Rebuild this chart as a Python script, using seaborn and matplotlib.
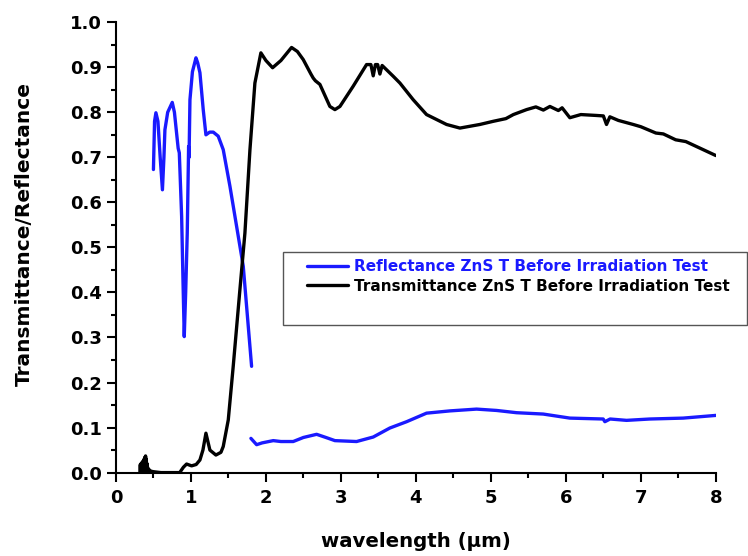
import numpy as np
import pandas as pd
import matplotlib
matplotlib.use("Agg")
import matplotlib.pyplot as plt
import seaborn as sns
from matplotlib.patches import Rectangle

# Reflectance, visible/NIR segment
refl_vis_x = [0.50, 0.515, 0.533, 0.56, 0.59, 0.62, 0.64, 0.653, 0.69, 0.751, 0.78, 0.818, 0.83, 0.845,
              0.876, 0.895, 0.911, 0.93, 0.951, 0.969, 0.975, 0.987, 1.02, 1.067, 1.09, 1.12, 1.164,
              1.2, 1.25, 1.298, 1.364, 1.431, 1.52, 1.609, 1.698, 1.809]
refl_vis_y = [0.673, 0.78, 0.799, 0.78, 0.70, 0.628, 0.70, 0.761, 0.80, 0.822, 0.80, 0.739, 0.72, 0.710,
              0.569, 0.42, 0.302, 0.40, 0.532, 0.724, 0.70, 0.828, 0.89, 0.921, 0.91, 0.888, 0.806,
              0.750, 0.756, 0.756, 0.747, 0.717, 0.636, 0.547, 0.458, 0.236]

# Reflectance, IR segment
refl_ir_x = [1.80, 1.876, 1.95, 2.098, 2.2, 2.364, 2.5, 2.676, 2.8, 2.92, 3.209, 3.431, 3.653, 3.876,
             4.142, 4.453, 4.809, 5.076, 5.342, 5.698, 6.053, 6.498, 6.52, 6.59, 6.809, 7.12, 7.564, 8.0]
refl_ir_y = [0.076, 0.062, 0.066, 0.071, 0.069, 0.069, 0.078, 0.085, 0.078, 0.071, 0.069, 0.079, 0.099,
             0.113, 0.132, 0.137, 0.141, 0.138, 0.133, 0.130, 0.121, 0.119, 0.113, 0.119, 0.116, 0.119,
             0.121, 0.127]

# Transmittance
trans_x = [0.32, 0.325, 0.33, 0.335, 0.34, 0.345, 0.35, 0.355, 0.36, 0.365, 0.37, 0.375, 0.38, 0.385,
           0.39, 0.395, 0.40, 0.405, 0.41, 0.415, 0.42, 0.43, 0.44, 0.45, 0.47, 0.50, 0.55, 0.60, 0.75,
           0.85, 0.90, 0.942, 1.009, 1.07, 1.12, 1.16, 1.2, 1.253,
           1.333, 1.40, 1.431, 1.498, 1.564, 1.653, 1.72, 1.787, 1.853, 1.933, 2.0, 2.089, 2.2, 2.342,
           2.42, 2.498, 2.6, 2.631, 2.66, 2.72, 2.853, 2.92, 2.987, 3.164, 3.342, 3.40, 3.431, 3.46,
           3.49, 3.52, 3.55, 3.698, 3.787, 3.964, 4.142, 4.409, 4.587, 4.853, 5.031, 5.2, 5.3, 5.476,
           5.6, 5.7, 5.787, 5.9, 5.95, 6.053, 6.2, 6.409, 6.5, 6.542, 6.587, 6.7, 6.898, 7.0, 7.2,
           7.3, 7.464, 7.6, 8.0]
trans_y = [0.0, 0.018, 0.0, 0.02, 0.0, 0.022, 0.0, 0.024, 0.0, 0.026, 0.0, 0.03, 0.0, 0.034,
           0.0, 0.037, 0.0, 0.03, 0.0, 0.02, 0.012, 0.009, 0.007, 0.005, 0.003, 0.002, 0.001, 0.0, 0.0,
           0.0, 0.012, 0.019, 0.015, 0.018, 0.028, 0.05, 0.0875, 0.050,
           0.039, 0.045, 0.058, 0.117, 0.236, 0.406, 0.532, 0.717, 0.865, 0.932, 0.915, 0.899,
           0.915, 0.944, 0.935, 0.917, 0.885, 0.876, 0.870, 0.862, 0.813, 0.806, 0.813, 0.858, 0.906,
           0.906, 0.881, 0.906, 0.906, 0.885, 0.904, 0.880, 0.865, 0.828, 0.795, 0.773, 0.765, 0.773,
           0.780, 0.786, 0.795, 0.806, 0.812, 0.805, 0.813, 0.804, 0.810, 0.788, 0.795, 0.793, 0.792,
           0.773, 0.790, 0.782, 0.773, 0.768, 0.754, 0.752, 0.739, 0.735, 0.704]

label_r = "Reflectance ZnS T Before Irradiation Test"
label_t = "Transmittance ZnS T Before Irradiation Test"
blue = "#1a1aff"

sns.set_theme(style="ticks")
plt.rcParams["font.family"] = ["DejaVu Sans"]
plt.rcParams["font.weight"] = "bold"
for k in ["text.color", "axes.labelcolor", "xtick.color", "ytick.color", "axes.edgecolor"]:
    plt.rcParams[k] = "black"

fig = plt.figure(figsize=(7.48, 5.56), dpi=100)
ax = fig.add_axes([0.155, 0.150, 0.802, 0.810])

df_rv = pd.DataFrame({"x": refl_vis_x, "y": refl_vis_y})
df_ri = pd.DataFrame({"x": refl_ir_x, "y": refl_ir_y})
df_t = pd.DataFrame({"x": trans_x, "y": trans_y})

sns.lineplot(data=df_rv, x="x", y="y", ax=ax, color=blue, lw=2.4, sort=False, label=label_r)
sns.lineplot(data=df_ri, x="x", y="y", ax=ax, color=blue, lw=2.4, sort=False, label="_nolegend_")
sns.lineplot(data=df_t, x="x", y="y", ax=ax, color="black", lw=2.4, sort=False, label=label_t)

ax.set_xlim(0, 8)
ax.set_ylim(0, 1.0)
ax.set_xticks(np.arange(0, 9, 1))
ax.set_xticks(np.arange(0, 8.01, 0.5), minor=True)
ax.set_yticks(np.round(np.arange(0, 1.01, 0.1), 1))
ax.set_yticks(np.arange(0, 1.001, 0.05), minor=True)
ax.set_yticklabels([f"{v:.1f}" for v in np.arange(0, 1.01, 0.1)])
ax.tick_params(axis="both", which="major", length=6.5, width=1.5, labelsize=13, direction="out")
ax.tick_params(axis="x", which="major", pad=5)
ax.tick_params(axis="y", which="major", pad=3.5)
ax.tick_params(axis="both", which="minor", length=3.5, width=1.5, direction="out")
for lab in ax.get_xticklabels() + ax.get_yticklabels():
    lab.set_fontweight("bold")

for s in ["top", "right"]:
    ax.spines[s].set_visible(False)
for s in ["left", "bottom"]:
    ax.spines[s].set_linewidth(1.5)

ax.set_xlabel("wavelength (μm)", fontsize=14.2, fontweight="bold", va="center")
ax.set_ylabel("Transmittance/Reflectance", fontsize=14.5, fontweight="bold", va="center")
ax.xaxis.set_label_coords(0.5, -0.154)
ax.yaxis.set_label_coords(-0.152, 0.530)

leg = ax.legend(loc="upper left", bbox_to_anchor=(0.318, 0.474), frameon=False,
                fontsize=11, handlelength=2.7, handletextpad=0.4, labelspacing=0.3,
                borderaxespad=0, borderpad=0)
for t, c in zip(leg.get_texts(), [blue, "black"]):
    t.set_color(c)
    t.set_fontweight("bold")

rect = Rectangle((0.278, 0.328), 0.774, 0.162, transform=ax.transAxes, fill=False,
                 edgecolor="#555555", lw=1.0, clip_on=False)
ax.add_patch(rect)

fig.savefig("out.png", dpi=100)
